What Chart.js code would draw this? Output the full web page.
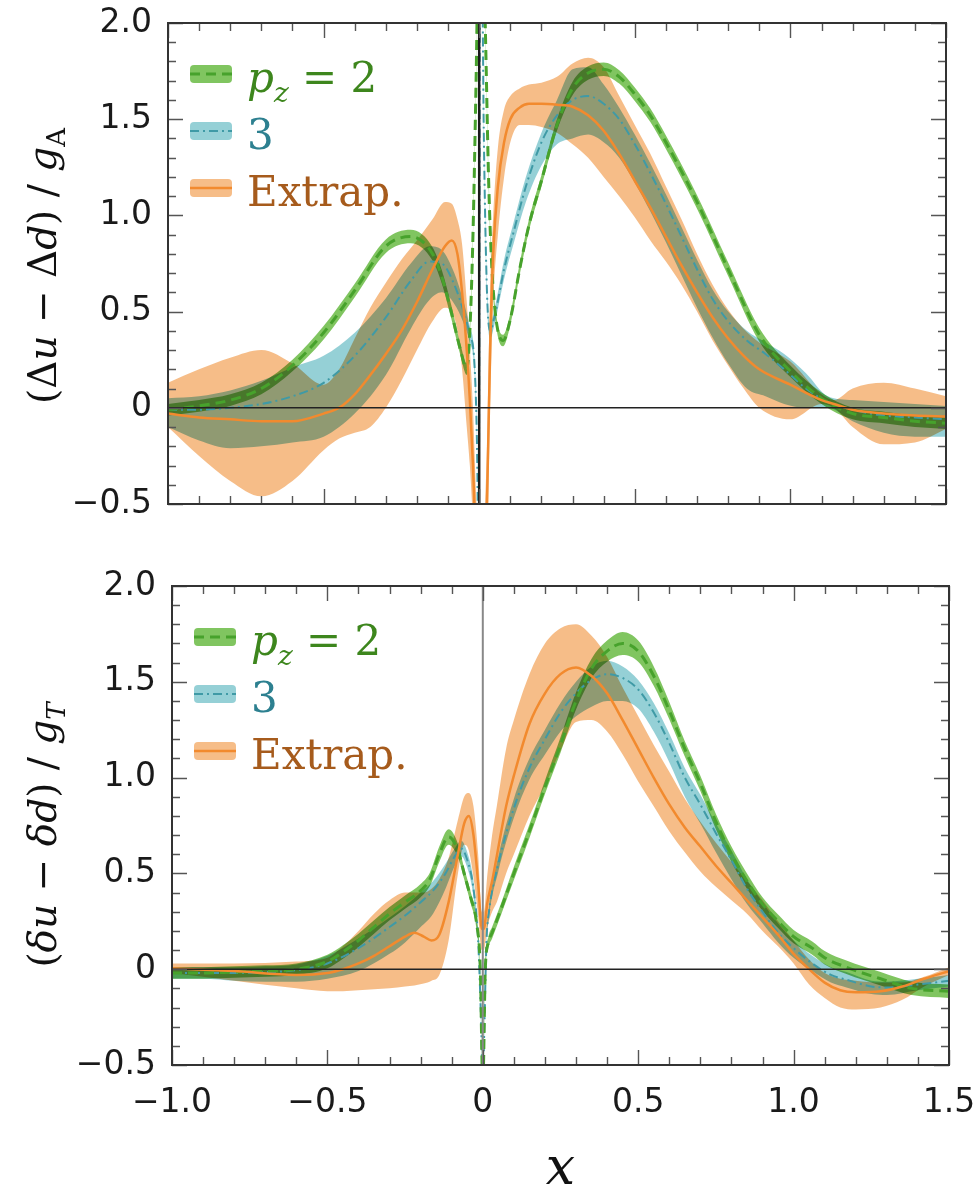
<!DOCTYPE html>
<html>
<head>
<meta charset="utf-8">
<script src="https://cdn.jsdelivr.net/npm/chart.js@4.4.1/dist/chart.umd.min.js"></script>
<style>
  body { margin: 0; background: #fff; width: 977px; height: 1196px; position: relative; overflow: hidden; }
  canvas { position: absolute; left: 0; }
  #helicity { top: 0; }
  #transversity { top: 570px; }
</style>
</head>
<body>
<canvas id="helicity" width="977" height="514"></canvas>
<canvas id="transversity" width="977" height="626"></canvas>
<script>
// axis ticks
const X_TICKS = [-1, -0.5, 0, 0.5, 1, 1.5];
const X_TICK_LABELS = ['−1.0', '−0.5', '0', '0.5', '1.0', '1.5'];
const Y_TICKS = [-0.5, 0, 0.5, 1, 1.5, 2];
const Y_TICK_LABELS = ['−0.5', '0', '0.5', '1.0', '1.5', '2.0'];

// ---- helicity: (Δu − Δd)/g_A ----
const hGreenX = [-1, -0.9, -0.8, -0.7, -0.6, -0.5, -0.4, -0.3, -0.22, -0.15, -0.12, -0.09, -0.06, -0.04, -0.03,
  -0.02, -0.01, 0, 0.01, 0.02, 0.03, 0.04, 0.055, 0.077, 0.1, 0.13, 0.16, 0.2, 0.25, 0.3,
  0.35, 0.4, 0.45, 0.5, 0.55, 0.6, 0.7, 0.8, 0.9, 1.0, 1.1, 1.2, 1.3, 1.4, 1.5];
const hGreen = [-0.01, 0.01, 0.04, 0.1, 0.22, 0.39, 0.61, 0.84, 0.89, 0.8, 0.68, 0.5, 0.3, 0.2, 0.4,
  0.9, 1.7, 2.6, 2.6, 1.95, 1.2, 0.75, 0.45, 0.35, 0.46, 0.72, 0.95, 1.18, 1.47, 1.66,
  1.74, 1.76, 1.72, 1.63, 1.52, 1.38, 1.07, 0.72, 0.38, 0.19, 0.05, -0.03, -0.05, -0.07, -0.08];
const hGreenErr = [0.03, 0.03, 0.03, 0.03, 0.03, 0.035, 0.035, 0.035, 0.035, 0.035, 0.035, 0.035, 0.03, 0.03, 0.03,
  0.03, 0.03, 0.03, 0.03, 0.03, 0.03, 0.03, 0.03, 0.03, 0.03, 0.03, 0.03, 0.03, 0.03, 0.035,
  0.035, 0.035, 0.035, 0.035, 0.035, 0.035, 0.035, 0.035, 0.035, 0.03, 0.03, 0.03, 0.03, 0.03, 0.03];

const hTealX = [-1, -0.9, -0.8, -0.7, -0.6, -0.5, -0.4, -0.3, -0.22, -0.16, -0.12, -0.08, -0.05, -0.03, -0.015,
  -0.006, -0.002, 0.003, 0.008, 0.015, 0.025, 0.035, 0.05, 0.08, 0.11, 0.15, 0.2, 0.25, 0.3, 0.35,
  0.4, 0.45, 0.5, 0.55, 0.6, 0.65, 0.7, 0.75, 0.8, 0.86, 0.92, 0.98, 1.05, 1.12, 1.2, 1.3, 1.4, 1.5];
const hTeal = [-0.01, -0.01, 0.0, 0.02, 0.06, 0.13, 0.27, 0.47, 0.66, 0.76, 0.75, 0.64, 0.5, 0.38, 0.22,
  -0.3, -0.9, 2.4, 2.4, 1.4, 0.6, 0.4, 0.48, 0.72, 0.91, 1.15, 1.38, 1.52, 1.6, 1.62,
  1.58, 1.5, 1.37, 1.22, 1.06, 0.89, 0.72, 0.565, 0.45, 0.35, 0.28, 0.2, 0.1, 0.03, -0.01, -0.04, -0.05, -0.06];
const hTealErrUp = [0.06, 0.07, 0.09, 0.12, 0.15, 0.14, 0.12, 0.1, 0.09, 0.08, 0.07, 0.06, 0.05, 0.04, 0.04,
  0.04, 0.04, 0.04, 0.04, 0.04, 0.04, 0.04, 0.04, 0.05, 0.05, 0.05, 0.05, 0.08, 0.16, 0.15,
  0.1, 0.06, 0.05, 0.05, 0.05, 0.05, 0.05, 0.05, 0.05, 0.05, 0.06, 0.08, 0.08, 0.03, 0.05, 0.07, 0.07, 0.07];
const hTealErrDn = [0.09, 0.16, 0.21, 0.22, 0.24, 0.28, 0.3, 0.3, 0.25, 0.2, 0.15, 0.1, 0.06, 0.04, 0.04,
  0.04, 0.04, 0.04, 0.04, 0.04, 0.04, 0.04, 0.04, 0.05, 0.06, 0.08, 0.12, 0.15, 0.2, 0.2,
  0.2, 0.2, 0.2, 0.2, 0.2, 0.2, 0.2, 0.2, 0.22, 0.25, 0.22, 0.18, 0.1, 0.03, 0.06, 0.09, 0.1, 0.09];

const hOrangeX = [-1, -0.9, -0.8, -0.7, -0.6, -0.5, -0.45, -0.4, -0.35, -0.3, -0.25, -0.2, -0.15, -0.11, -0.088,
  -0.07, -0.055, -0.04, -0.03, -0.02, -0.01, 0, 0.012, 0.025, 0.035, 0.045, 0.06, 0.08, 0.1, 0.13,
  0.16, 0.2, 0.25, 0.3, 0.35, 0.4, 0.45, 0.5, 0.55, 0.6, 0.65, 0.7, 0.75, 0.8, 0.85,
  0.9, 1.0, 1.1, 1.14, 1.2, 1.3, 1.4, 1.5];
const hOrange = [-0.03, -0.05, -0.06, -0.07, -0.07, -0.03, 0.0, 0.07, 0.17, 0.28, 0.4, 0.55, 0.72, 0.84, 0.87,
  0.8, 0.6, 0.3, 0.04, -0.3, -0.75, -1.1, -1.0, -0.5, 0.3, 0.8, 1.15, 1.38, 1.5, 1.56,
  1.58, 1.58, 1.575, 1.565, 1.52, 1.44, 1.32, 1.18, 1.04, 0.89, 0.74, 0.6, 0.47, 0.36, 0.27,
  0.2, 0.12, 0.04, 0.02, -0.01, -0.03, -0.04, -0.045];
const hOrangeHi = [0.13, 0.2, 0.26, 0.3, 0.23, 0.12, 0.2, 0.36, 0.52, 0.65, 0.77, 0.87, 0.98, 1.07, 1.06,
  0.98, 0.85, 0.55, 0.3, 0.0, -0.45, -0.8, -0.7, -0.2, 0.6, 1.0, 1.35, 1.55, 1.62, 1.66,
  1.68, 1.69, 1.72, 1.79, 1.82, 1.77, 1.62, 1.47, 1.32, 1.15, 0.98, 0.8, 0.64, 0.51, 0.41,
  0.34, 0.24, 0.07, 0.04, 0.1, 0.13, 0.1, 0.06];
const hOrangeLo = [-0.1, -0.25, -0.38, -0.46, -0.38, -0.22, -0.16, -0.13, -0.1, 0.0, 0.14, 0.3, 0.45, 0.52, 0.5,
  0.4, 0.2, -0.1, -0.3, -0.6, -1.0, -1.4, -1.3, -0.8, 0.0, 0.55, 0.9, 1.2, 1.38, 1.47,
  1.47, 1.46, 1.43, 1.37, 1.3, 1.2, 1.1, 0.99, 0.87, 0.76, 0.64, 0.5, 0.35, 0.22, 0.1,
  0.0, -0.06, 0.02, 0.0, -0.1, -0.19, -0.18, -0.11];

// ---- transversity: (δu − δd)/g_T ----
const tGreenX = [-1, -0.9, -0.8, -0.7, -0.6, -0.5, -0.45, -0.4, -0.35, -0.3, -0.25, -0.2, -0.17, -0.14, -0.11,
  -0.08, -0.06, -0.04, -0.02, -0.008, 0, 0.008, 0.018, 0.03, 0.06, 0.1, 0.15, 0.2, 0.25, 0.3,
  0.35, 0.4, 0.45, 0.5, 0.55, 0.6, 0.65, 0.7, 0.75, 0.8, 0.85, 0.9, 0.95, 1.0, 1.06,
  1.1, 1.17, 1.28, 1.38, 1.5];
const tGreen = [-0.02, -0.02, -0.015, -0.01, 0.0, 0.04, 0.09, 0.15, 0.22, 0.29, 0.35, 0.41, 0.47, 0.6, 0.69,
  0.62, 0.5, 0.38, 0.24, 0.0, -0.6, 0.0, 0.14, 0.19, 0.32, 0.5, 0.72, 0.95, 1.17, 1.4,
  1.57, 1.66, 1.7, 1.66, 1.53, 1.35, 1.15, 0.97, 0.77, 0.6, 0.46, 0.34, 0.25, 0.17, 0.11,
  0.06, 0.01, -0.05, -0.1, -0.115];
const tGreenErr = [0.03, 0.03, 0.03, 0.03, 0.03, 0.035, 0.035, 0.035, 0.035, 0.035, 0.035, 0.035, 0.035, 0.04, 0.04,
  0.035, 0.03, 0.03, 0.03, 0.03, 0.03, 0.03, 0.03, 0.03, 0.03, 0.035, 0.035, 0.035, 0.04, 0.045,
  0.05, 0.055, 0.06, 0.055, 0.05, 0.045, 0.04, 0.04, 0.04, 0.04, 0.04, 0.035, 0.035, 0.035, 0.035,
  0.035, 0.035, 0.035, 0.035, 0.035];

const tTealX = [-1, -0.9, -0.8, -0.7, -0.6, -0.5, -0.4, -0.3, -0.25, -0.2, -0.16, -0.12, -0.09, -0.07, -0.05,
  -0.03, -0.015, -0.005, 0, 0.005, 0.012, 0.02, 0.05, 0.1, 0.15, 0.2, 0.25, 0.3, 0.35, 0.4,
  0.45, 0.5, 0.55, 0.6, 0.65, 0.7, 0.75, 0.8, 0.85, 0.9, 0.95, 1.0, 1.06, 1.12, 1.17,
  1.25, 1.3, 1.4, 1.5];
const tTeal = [-0.02, -0.02, -0.02, -0.015, -0.005, 0.03, 0.11, 0.22, 0.28, 0.35, 0.41, 0.5, 0.59, 0.63, 0.57,
  0.42, 0.15, -0.3, -0.6, -0.3, 0.15, 0.3, 0.55, 0.84, 1.05, 1.2, 1.34, 1.44, 1.51, 1.54,
  1.52, 1.46, 1.34, 1.18, 1.0, 0.86, 0.71, 0.57, 0.42, 0.3, 0.19, 0.11, 0.03, -0.03, -0.055,
  -0.09, -0.095, -0.08, -0.06];
const tTealErrUp = [0.03, 0.03, 0.03, 0.03, 0.03, 0.04, 0.05, 0.05, 0.05, 0.05, 0.05, 0.05, 0.04, 0.04, 0.04,
  0.04, 0.03, 0.03, 0.03, 0.03, 0.03, 0.03, 0.04, 0.05, 0.05, 0.05, 0.05, 0.06, 0.07, 0.07,
  0.06, 0.05, 0.05, 0.05, 0.05, 0.05, 0.05, 0.05, 0.05, 0.05, 0.05, 0.04, 0.04, 0.04, 0.04,
  0.03, 0.03, 0.03, 0.03];
const tTealErrDn = [0.03, 0.03, 0.04, 0.05, 0.06, 0.08, 0.12, 0.14, 0.14, 0.13, 0.12, 0.08, 0.05, 0.04, 0.04,
  0.04, 0.03, 0.03, 0.03, 0.03, 0.03, 0.03, 0.04, 0.05, 0.06, 0.08, 0.1, 0.12, 0.14, 0.14,
  0.12, 0.1, 0.1, 0.1, 0.1, 0.1, 0.1, 0.1, 0.08, 0.06, 0.05, 0.05, 0.04, 0.04, 0.04,
  0.04, 0.04, 0.03, 0.03];

const tOrangeX = [-1, -0.8, -0.6, -0.5, -0.45, -0.4, -0.35, -0.3, -0.25, -0.22, -0.19, -0.165, -0.14, -0.11, -0.08,
  -0.06, -0.045, -0.03, -0.015, -0.003, 0.003, 0.015, 0.03, 0.045, 0.075, 0.1, 0.15, 0.2, 0.25, 0.3,
  0.35, 0.4, 0.45, 0.5, 0.55, 0.6, 0.65, 0.7, 0.75, 0.8, 0.85, 0.9, 0.95, 1.0, 1.05,
  1.1, 1.15, 1.2, 1.28, 1.35, 1.42, 1.5];
const tOrange = [0.005, -0.01, -0.03, -0.02, 0.0, 0.03, 0.07, 0.12, 0.17, 0.19, 0.17, 0.15, 0.18, 0.35, 0.6,
  0.76, 0.8, 0.7, 0.45, 0.21, 0.21, 0.35, 0.46, 0.59, 0.85, 1.01, 1.28, 1.44, 1.54, 1.575,
  1.53, 1.44, 1.3, 1.15, 1.0, 0.86, 0.74, 0.64, 0.54, 0.45, 0.36, 0.27, 0.18, 0.08, 0.0,
  -0.07, -0.11, -0.12, -0.115, -0.09, -0.05, -0.01];
const tOrangeHi = [0.03, 0.03, 0.04, 0.06, 0.12, 0.2, 0.29, 0.36, 0.4, 0.4, 0.4, 0.42, 0.47, 0.58, 0.78,
  0.9, 0.92, 0.85, 0.6, 0.3, 0.3, 0.5, 0.7, 0.85, 1.15, 1.3, 1.54, 1.7, 1.78, 1.8,
  1.74, 1.63, 1.47, 1.32, 1.17, 1.03, 0.89, 0.77, 0.66, 0.56, 0.46, 0.36, 0.25, 0.15, 0.05,
  -0.02, -0.05, -0.06, -0.07, -0.07, -0.04, 0.01];
const tOrangeLo = [-0.02, -0.06, -0.1, -0.115, -0.115, -0.11, -0.105, -0.1, -0.09, -0.085, -0.075, -0.06, -0.03, 0.15, 0.5,
  0.65, 0.62, 0.48, 0.28, 0.1, 0.1, 0.22, 0.3, 0.35, 0.5, 0.6, 0.8, 0.96, 1.14, 1.29,
  1.3, 1.24, 1.12, 0.98, 0.85, 0.72, 0.61, 0.51, 0.43, 0.36, 0.29, 0.2, 0.12, 0.03, -0.08,
  -0.15, -0.2, -0.21, -0.2, -0.16, -0.09, -0.03];

const STYLE = {
  pz2:    { line: '#47a22c', band: '#80c560', dash: [10, 6], width: 3, text: '#3d861d' },
  pz3:    { line: '#3f9aa6', band: '#95d0d6', dash: [9, 4, 2, 4], width: 2, text: '#2d8090' },
  extrap: { line: '#f28a2e', band: '#f6bd88', dash: [], width: 2.5, text: '#a65b1c' }
};

const pts = (xs, ys) => xs.map((x, i) => ({ x, y: ys[i] }));

function band(xs, lo, hi, color, order) {
  const common = { pointRadius: 0, borderWidth: 0, borderColor: 'transparent', cubicInterpolationMode: 'monotone', order };
  return [
    { ...common, data: pts(xs, hi), fill: '+1', backgroundColor: color },
    { ...common, data: pts(xs, lo), fill: false }
  ];
}

function curve(xs, ys, st, order) {
  return { data: pts(xs, ys), borderColor: st.line, borderWidth: st.width, borderDash: st.dash,
    pointRadius: 0, fill: false, cubicInterpolationMode: 'monotone', order };
}

function refLine(data, color, width) {
  return { data, borderColor: color, borderWidth: width, pointRadius: 0, fill: false, tension: 0, order: 0 };
}

// white paper; bands are filled with multiply so overlaps darken, lines go on normally
const paperBlend = {
  id: 'paperBlend',
  beforeDraw(chart) {
    const ctx = chart.ctx;
    ctx.globalCompositeOperation = 'source-over';
    ctx.fillStyle = '#fff';
    ctx.fillRect(0, 0, chart.width, chart.height);
    ctx.globalCompositeOperation = 'multiply';
  },
  beforeDatasetsDraw(chart) { chart.ctx.globalCompositeOperation = 'source-over'; },
  afterDraw(chart) { chart.ctx.globalCompositeOperation = 'source-over'; }
};

// frame with inward major/minor ticks on all four sides
const frameTicks = {
  id: 'frameTicks',
  afterDraw(chart) {
    const { ctx, chartArea: a, scales: { x, y } } = chart;
    ctx.save();
    ctx.strokeStyle = '#555';
    ctx.lineWidth = 1.4;
    ctx.beginPath();
    for (let k = 0; k <= 25; k++) {
      const px = Math.round(x.getPixelForValue(-1 + k / 10)) + 0.5;
      const len = k % 5 === 0 ? 15 : 8;
      ctx.moveTo(px, a.top); ctx.lineTo(px, a.top + len);
      ctx.moveTo(px, a.bottom); ctx.lineTo(px, a.bottom - len);
    }
    for (let k = 0; k <= 25; k++) {
      const py = Math.round(y.getPixelForValue(-0.5 + k / 10)) + 0.5;
      const len = k % 5 === 0 ? 15 : 8;
      ctx.moveTo(a.left, py); ctx.lineTo(a.left + len, py);
      ctx.moveTo(a.right, py); ctx.lineTo(a.right - len, py);
    }
    ctx.stroke();
    ctx.strokeStyle = '#333';
    ctx.lineWidth = 2;
    ctx.strokeRect(a.left, a.top, a.right - a.left, a.bottom - a.top);
    ctx.restore();
  }
};

function richText(ctx, segs, x, y, size, align) {
  const fontFor = k => (k.includes('i') ? 'italic ' : '') +
    Math.round(k.startsWith('sub') ? size * 0.66 : size) + 'px "DejaVu Serif"';
  let total = 0;
  segs.forEach(([t, k]) => { ctx.font = fontFor(k); total += ctx.measureText(t).width; });
  let cx = align === 'center' ? x - total / 2 : x;
  segs.forEach(([t, k]) => {
    ctx.font = fontFor(k);
    ctx.fillText(t, cx, y + (k.startsWith('sub') ? size * 0.24 : 0));
    cx += ctx.measureText(t).width;
  });
}

const LEGEND_ROWS = [
  { key: 'pz2', segs: [['p', 'i'], ['z', 'subi'], [' = 2', 'n']] },
  { key: 'pz3', segs: [['3', 'n']] },
  { key: 'extrap', segs: [['Extrap.', 'n']] }
];

// legend inside the frame and the rotated y title
const annotations = {
  id: 'annotations',
  afterDraw(chart, args, opts) {
    const { ctx, chartArea: a } = chart;
    ctx.save();
    ctx.textBaseline = 'alphabetic';
    LEGEND_ROWS.forEach((row, i) => {
      const st = STYLE[row.key];
      const cy = a.top + 51 + i * 57;
      const x0 = a.left + 22, x1 = a.left + 64;
      ctx.fillStyle = st.band;
      ctx.beginPath();
      ctx.roundRect(x0, cy - 9, x1 - x0, 18, 4);
      ctx.fill();
      ctx.strokeStyle = st.line;
      ctx.lineWidth = st.width;
      ctx.setLineDash(st.dash);
      ctx.beginPath();
      ctx.moveTo(x0, cy); ctx.lineTo(x1, cy);
      ctx.stroke();
      ctx.setLineDash([]);
      ctx.fillStyle = st.text;
      richText(ctx, row.segs, a.left + 79, cy + 18, 42, 'left');
    });
    ctx.translate(opts.titleX, opts.titleY);
    ctx.rotate(-Math.PI / 2);
    ctx.fillStyle = '#111';
    richText(ctx, opts.title, 0, 13, 39, 'center');
    ctx.restore();
  }
};

function makeChart(id, cfg) {
  return new Chart(document.getElementById(id), {
    type: 'line',
    data: { datasets: cfg.datasets },
    options: {
      responsive: false,
      animation: false,
      events: [],
      layout: { padding: cfg.pad },
      plugins: {
        legend: { display: false },
        tooltip: { enabled: false },
        filler: { drawTime: 'beforeDatasetsDraw' },
        annotations: { title: cfg.title, titleX: 43, titleY: cfg.titleY }
      },
      scales: {
        x: {
          type: 'linear', min: -1, max: 1.5, display: cfg.showX,
          grid: { display: false }, border: { display: false },
          afterBuildTicks: s => { s.ticks = X_TICKS.map(v => ({ value: v })); },
          ticks: { callback: (v, i) => X_TICK_LABELS[i], autoSkip: false, maxRotation: 0,
            font: { family: 'DejaVu Sans', size: 33 }, color: '#1a1a1a', padding: 11 },
          title: { display: true, text: 'x', color: '#111', padding: { top: 0, bottom: 0 },
            font: { family: 'DejaVu Serif', style: 'italic', size: 52, lineHeight: 1 } },
          afterFit: s => { if (cfg.showX) s.height = cfg.xHeight; s.paddingLeft = 0; s.paddingRight = 0; }
        },
        y: {
          type: 'linear', min: -0.5, max: 2,
          grid: { display: false }, border: { display: false },
          afterBuildTicks: s => { s.ticks = Y_TICKS.map(v => ({ value: v })); },
          ticks: { callback: (v, i) => Y_TICK_LABELS[i], autoSkip: false,
            font: { family: 'DejaVu Sans', size: 33 }, color: '#1a1a1a', padding: 8 },
          afterFit: s => { s.width = cfg.yWidth; s.paddingTop = 0; s.paddingBottom = 0; }
        }
      }
    },
    plugins: [paperBlend, frameTicks, annotations]
  });
}

function panelSets(g, gErrUp, gErrDn, t, tErrUp, tErrDn, o, axisColor, axisWidth) {
  const [gx, gy] = g, [tx, ty] = t, [ox, oy, oLo, oHi] = o;
  return [
    refLine([{ x: -1, y: 0 }, { x: 1.5, y: 0 }], '#222', 1.5),
    refLine([{ x: 0, y: -0.5 }, { x: 0, y: 2 }], axisColor, axisWidth),
    curve(ox, oy, STYLE.extrap, 1),
    curve(gx, gy, STYLE.pz2, 2),
    curve(tx, ty, STYLE.pz3, 3),
    ...band(gx, gy.map((v, i) => v - gErrDn[i]), gy.map((v, i) => v + gErrUp[i]), STYLE.pz2.band, 4),
    ...band(tx, ty.map((v, i) => v - tErrDn[i]), ty.map((v, i) => v + tErrUp[i]), STYLE.pz3.band, 5),
    ...band(ox, oLo, oHi, STYLE.extrap.band, 6)
  ];
}

makeChart('helicity', {
  showX: false, yWidth: 168, xHeight: 0,
  pad: { top: 23, right: 31, bottom: 10, left: 0 },
  titleY: 266,
  title: [['(Δ', 'n'], ['u', 'i'], [' − Δ', 'n'], ['d', 'i'], [') / ', 'n'], ['g', 'i'], ['A', 'sub']],
  datasets: panelSets([hGreenX, hGreen], hGreenErr, hGreenErr, [hTealX, hTeal], hTealErrUp, hTealErrDn,
    [hOrangeX, hOrange, hOrangeLo, hOrangeHi], '#1a1a1a', 2.5)
});

makeChart('transversity', {
  showX: true, yWidth: 172, xHeight: 131,
  pad: { top: 16, right: 28, bottom: 0, left: 0 },
  titleY: 265,
  title: [['(', 'n'], ['δu', 'i'], [' − ', 'n'], ['δd', 'i'], [') / ', 'n'], ['g', 'i'], ['T', 'subi']],
  datasets: panelSets([tGreenX, tGreen], tGreenErr, tGreenErr, [tTealX, tTeal], tTealErrUp, tTealErrDn,
    [tOrangeX, tOrange, tOrangeLo, tOrangeHi], '#888', 2)
});
</script>
</body>
</html>
